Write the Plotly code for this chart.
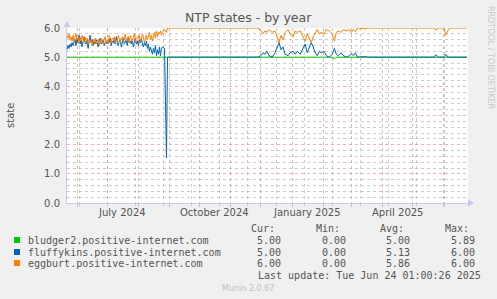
import pandas as pd
import plotly.graph_objects as go

# ---------------- data ----------------
blue_noisy = [5.25, 5.4, 5.3, 5.45, 5.35, 5.5, 5.4, 5.55, 5.6, 5.4, 5.65, 5.5, 5.75, 5.45, 5.6, 5.35,
              5.55, 5.7, 5.5, 5.45, 5.6, 5.3, 5.55, 5.75, 5.5, 5.6, 5.4, 5.55, 5.45, 5.6, 5.5, 5.35,
              5.55, 5.65, 5.45, 5.5, 5.6, 5.4, 5.5, 5.55, 5.45, 5.6, 5.5, 5.65, 5.4, 5.55, 5.5, 5.6,
              5.45, 5.7, 5.5, 5.4, 5.55, 5.6, 5.35, 5.5, 5.65, 5.45, 5.5, 5.6, 5.4, 5.7, 5.5, 5.55,
              5.45, 5.6, 5.35, 5.5, 5.65, 5.45, 5.55, 5.4, 5.6, 5.5, 5.65, 5.45, 5.35, 5.5, 5.4, 5.55,
              5.3, 5.45, 5.2, 5.35, 5.25, 5.1, 5.3, 5.15, 5.4, 5.05, 5.25, 5.1, 5.35, 5.05, 5.3, 5.35]
orange_noisy = [5.75, 5.65, 5.8, 5.6, 5.7, 5.55, 5.75, 5.5, 5.7, 5.8, 5.6, 5.65, 5.45, 5.7, 5.55, 5.75,
                5.6, 5.5, 5.7, 5.55, 5.65, 5.45, 5.6, 5.5, 5.55, 5.4, 5.6, 5.5, 5.65, 5.45, 5.55, 5.6,
                5.4, 5.55, 5.65, 5.5, 5.45, 5.6, 5.7, 5.5, 5.6, 5.45, 5.75, 5.55, 5.5, 5.65, 5.6, 5.7,
                5.5, 5.6, 5.55, 5.75, 5.6, 5.5, 5.65, 5.7, 5.55, 5.6, 5.8, 5.55, 5.65, 5.7, 5.5, 5.75,
                5.6, 5.55, 5.7, 5.8, 5.6, 5.5, 5.7, 5.65, 5.75, 5.55, 5.6, 5.8, 5.7, 5.5, 5.65, 5.75,
                5.6, 5.7, 5.85, 5.6, 5.75, 5.55, 5.7, 5.85, 5.65, 5.9, 5.7, 5.85, 5.8, 5.9, 5.75, 5.85]
noisy_start = "2024-05-22"

drop_dates = ["2024-08-27", "2024-08-29", "2024-08-30"]
blue_drop = [5.3, 1.55, 5.0]
orange_drop = [5.95, 5.85, 6.0]

later_dates = ["2024-11-28", "2024-12-01", "2024-12-03", "2024-12-05", "2024-12-07", "2024-12-09",
               "2024-12-12", "2024-12-15", "2024-12-17", "2024-12-19", "2024-12-21", "2024-12-23",
               "2024-12-25", "2024-12-28", "2024-12-30", "2025-01-02", "2025-01-04", "2025-01-06",
               "2025-01-09", "2025-01-12", "2025-01-14", "2025-01-16", "2025-01-18", "2025-01-20",
               "2025-01-22", "2025-01-24", "2025-01-26", "2025-01-28", "2025-01-30", "2025-02-02",
               "2025-02-04", "2025-02-07", "2025-02-10", "2025-02-12", "2025-02-14", "2025-02-16",
               "2025-02-19", "2025-02-21", "2025-02-24", "2025-02-27", "2025-03-01", "2025-03-03",
               "2025-03-05", "2025-03-07", "2025-03-15", "2025-03-17", "2025-05-22", "2025-05-24",
               "2025-05-26", "2025-06-01", "2025-06-03", "2025-06-05", "2025-06-07", "2025-06-24"]
blue_later = [5.0, 5.05, 5.15, 5.1, 5.2, 5.05, 5.0, 5.15, 5.3, 5.5, 5.25, 5.35, 5.1, 5.05, 5.15,
              5.2, 5.1, 5.2, 5.1, 5.3, 5.45, 5.15, 5.3, 5.5, 5.35, 5.15, 5.05, 5.2, 5.15, 5.2,
              5.05, 5.0, 5.1, 5.3, 5.1, 5.05, 5.15, 5.05, 5.0, 5.05, 5.12, 5.05, 5.15, 5.0,
              5.02, 5.0, 5.0, 5.08, 5.0, 5.0, 5.1, 5.0, 5.0, 5.0]
orange_later = [6.0, 5.9, 5.8, 5.9, 5.85, 5.95, 5.85, 5.9, 5.7, 5.5, 5.75, 5.6, 5.85, 5.95, 5.8,
                5.7, 5.9, 5.85, 5.9, 5.7, 5.55, 5.8, 5.65, 5.5, 5.7, 5.85, 5.95, 5.8, 5.85, 5.8,
                5.95, 5.9, 5.8, 5.55, 5.85, 5.9, 5.85, 5.95, 5.9, 5.95, 5.85, 5.95, 5.88, 6.0,
                5.97, 6.0, 6.0, 5.92, 6.0, 6.0, 5.75, 5.9, 6.0, 6.0]

green_dates = ["2024-05-22", "2025-02-10", "2025-02-12", "2025-02-14", "2025-06-24"]
green_vals = [5.0, 5.0, 4.93, 5.0, 5.0]

series_names = ["bludger2.positive-internet.com", "fluffykins.positive-internet.com",
                "eggburt.positive-internet.com"]
series_colors = ["#00CC00", "#0066B3", "#FF8000"]
stats_cur = ["5.00", "5.00", "6.00"]
stats_min = ["0.00", "0.00", "0.00"]
stats_avg = ["5.00", "5.13", "5.86"]
stats_max = ["5.89", "6.00", "6.00"]

x_range = ["2024-05-22", "2025-06-25"]
month_starts = ["2024-06-01", "2024-07-01", "2024-08-01", "2024-09-01", "2024-10-01", "2024-11-01",
                "2024-12-01", "2025-01-01", "2025-02-01", "2025-03-01", "2025-04-01", "2025-05-01",
                "2025-06-01"]
minor_dates = ["2024-06-03", "2024-07-01", "2024-07-29", "2024-08-26", "2024-09-23", "2024-10-21",
               "2024-11-18", "2024-12-16", "2025-01-13", "2025-02-10", "2025-03-10", "2025-04-07",
               "2025-05-05", "2025-06-02"]
label_dates = ["2024-07-16", "2024-10-16", "2025-01-16", "2025-04-16"]
label_texts = ["July 2024", "October 2024", "January 2025", "April 2025"]

# ---------------- figure ----------------
W, H = 497, 299
L, R, T, B = 67, 468, 28, 203

def px(x):
    return (x - L) / (R - L)

def py(y):
    return (B - y) / (B - T)

noisy_dates_b = list(pd.date_range(noisy_start, periods=len(blue_noisy), freq="D").strftime("%Y-%m-%d"))
noisy_dates_o = list(pd.date_range(noisy_start, periods=len(orange_noisy), freq="D").strftime("%Y-%m-%d"))

blue_dates = noisy_dates_b + drop_dates + later_dates
blue_vals = blue_noisy + blue_drop + blue_later
orange_dates = noisy_dates_o + drop_dates + later_dates
orange_vals = orange_noisy + orange_drop + orange_later

fig = go.Figure()
fig.add_trace(go.Scatter(x=green_dates, y=green_vals, mode="lines",
                         line=dict(color=series_colors[0], width=1), hoverinfo="skip"))
fig.add_trace(go.Scatter(x=blue_dates, y=blue_vals, mode="lines",
                         line=dict(color=series_colors[1], width=1), hoverinfo="skip"))
fig.add_trace(go.Scatter(x=orange_dates, y=orange_vals, mode="lines",
                         line=dict(color=series_colors[2], width=1), hoverinfo="skip"))

font_main = "DejaVu Sans"
font_mono = "DejaVu Sans Mono"
txt_col = "#555555"
red_grid = "rgba(225,130,130,0.6)"
gray_grid = "rgba(170,170,170,0.6)"
axis_col = "#c8c8f0"
dotpat = "dot"

fig.update_layout(
    width=W, height=H,
    margin=dict(l=L, r=W - R, t=T, b=H - B, pad=0),
    paper_bgcolor="#F0F0F0", plot_bgcolor="#FFFFFF",
    showlegend=False,
    font=dict(family=font_main, size=10, color=txt_col),
    xaxis=dict(type="date", range=x_range, tickmode="array", tickvals=month_starts,
               ticktext=[""] * len(month_starts), showgrid=True, gridcolor=red_grid,
               griddash=dotpat, gridwidth=1, ticks="outside", ticklen=3, tickcolor=red_grid,
               showline=True, linecolor=axis_col, linewidth=1, zeroline=False,
               minor=dict(tickmode="array", tickvals=minor_dates, showgrid=True,
                          gridcolor=gray_grid, griddash=dotpat, gridwidth=1,
                          ticks="outside", ticklen=2, tickcolor=gray_grid)),
    yaxis=dict(range=[0, 6.0], tickmode="linear", tick0=0, dtick=1.0, tickformat=".1f",
               showgrid=True, gridcolor=red_grid, griddash=dotpat, gridwidth=1,
               ticks="", showline=True, linecolor=axis_col, linewidth=1, zeroline=False,
               tickfont=dict(size=10, color=txt_col), ticklabelstandoff=4,
               minor=dict(dtick=0.2, tick0=0, showgrid=True, gridcolor=gray_grid,
                          griddash=dotpat, gridwidth=1)),
)

anns = []
anns.append(dict(text="NTP states - by year", xref="paper", yref="paper",
                 x=px(248), y=py(18), xanchor="center", yanchor="middle", showarrow=False,
                 font=dict(family=font_main, size=12.5, color=txt_col)))
anns.append(dict(text="state", xref="paper", yref="paper", x=px(10), y=py(116),
                 xanchor="center", yanchor="middle", showarrow=False, textangle=-90,
                 font=dict(family=font_main, size=10, color=txt_col)))
anns.append(dict(text="RRDTOOL / TOBI OETIKER", xref="paper", yref="paper", x=px(490), y=py(58),
                 xanchor="center", yanchor="middle", showarrow=False, textangle=90,
                 font=dict(family=font_main, size=8, color="#c8c8c8")))
for d, t in zip(label_dates, label_texts):
    anns.append(dict(text=t, xref="x", yref="paper", x=d, y=py(212), xanchor="center",
                     yanchor="middle", showarrow=False,
                     font=dict(family=font_main, size=10, color=txt_col)))

# legend header
for t, xr in zip(["Cur:", "Min:", "Avg:", "Max:"], [277, 342, 406, 471]):
    anns.append(dict(text=t, xref="paper", yref="paper", x=px(xr), y=py(228), xanchor="right",
                     yanchor="middle", showarrow=False,
                     font=dict(family=font_mono, size=10, color=txt_col)))
rows_y = [240, 252, 263]
shapes = []
for i in range(3):
    yy = rows_y[i]
    shapes.append(dict(type="rect", xref="paper", yref="paper", x0=px(14), x1=px(20),
                       y0=py(yy - 3), y1=py(yy + 3), fillcolor=series_colors[i],
                       line=dict(width=0)))
    anns.append(dict(text=series_names[i], xref="paper", yref="paper", x=px(26), y=py(yy),
                     xanchor="left", yanchor="middle", showarrow=False,
                     font=dict(family=font_mono, size=10, color=txt_col)))
    for v, xr in zip([stats_cur[i], stats_min[i], stats_avg[i], stats_max[i]],
                     [283, 348, 412, 477]):
        anns.append(dict(text=v, xref="paper", yref="paper", x=px(xr), y=py(yy),
                         xanchor="right", yanchor="middle", showarrow=False,
                         font=dict(family=font_mono, size=10, color=txt_col)))
anns.append(dict(text="Last update: Tue Jun 24 01:00:26 2025", xref="paper", yref="paper",
                 x=px(483), y=py(275), xanchor="right", yanchor="middle", showarrow=False,
                 font=dict(family=font_mono, size=10, color=txt_col)))
anns.append(dict(text="Munin 2.0.67", xref="paper", yref="paper", x=px(248), y=py(288),
                 xanchor="center", yanchor="middle", showarrow=False,
                 font=dict(family=font_main, size=8, color="#c0c0c0")))

# axis arrows
shapes.append(dict(type="path", xref="paper", yref="paper",
                   path=f"M {px(468)} {py(199.5)} L {px(474)} {py(203)} L {px(468)} {py(206.5)} Z",
                   fillcolor=axis_col, line=dict(width=0)))
shapes.append(dict(type="path", xref="paper", yref="paper",
                   path=f"M {px(63.5)} {py(27)} L {px(67)} {py(21)} L {px(70.5)} {py(27)} Z",
                   fillcolor=axis_col, line=dict(width=0)))

fig.update_layout(annotations=anns, shapes=shapes)
fig.write_html("out.html")
